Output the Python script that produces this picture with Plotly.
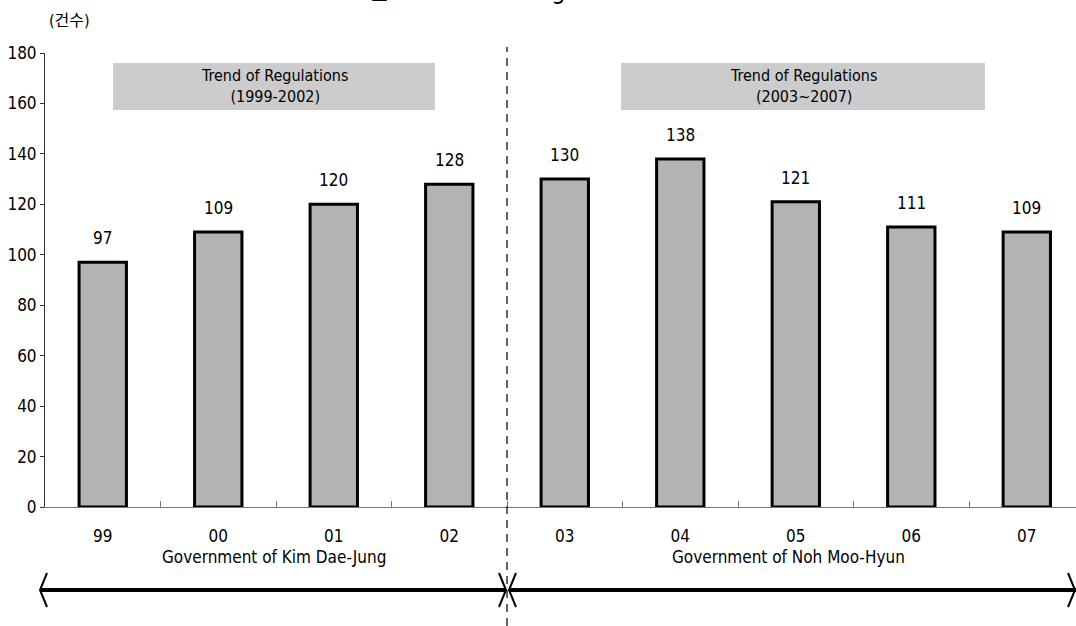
import plotly.graph_objects as go

# ---- data ----
years = ["99", "00", "01", "02", "03", "04", "05", "06", "07"]
counts = [97, 109, 120, 128, 130, 138, 121, 111, 109]
y_ticks = [0, 20, 40, 60, 80, 100, 120, 140, 160, 180]
unit_label = "(건수)"
title_text = "그림 1. Trend of Regulations in Korea"
box_labels = ["Trend of Regulations<br>(1999-2002)", "Trend of Regulations<br>(2003~2007)"]
gov_labels = ["Government of Kim Dae-Jung", "Government of Noh Moo-Hyun"]

# ---- layout constants ----
W, H = 1076, 626
ML, MR, MT, MB = 45, 0, 53, 119
XR = [-0.5, 8.426]
PW = W - ML - MR
PH = H - MT - MB
FONT = "Liberation Sans Narrow, DejaVu Sans Condensed, Arial Narrow, Noto Sans CJK KR, sans-serif"


def px_x(p):
    """pixel -> paper x (relative to plot area)"""
    return (p - ML) / PW


def px_y(p):
    return (H - MB - p) / PH


fig = go.Figure()
fig.add_trace(go.Bar(
    x=years, y=counts,
    width=0.41,
    marker=dict(color="#b3b3b3", line=dict(color="black", width=3)),
    hoverinfo="skip",
))

annotations = []
for i, v in enumerate(counts):
    annotations.append(dict(x=i, y=v, xref="x", yref="y", text=str(v),
                            showarrow=False, yanchor="middle", yshift=24,
                            font=dict(size=17, color="black", family=FONT)))

shapes = []
# gray header boxes
boxes = [(113, 435), (621, 985)]
for (a, b), lab in zip(boxes, box_labels):
    shapes.append(dict(type="rect", xref="paper", yref="paper",
                       x0=px_x(a), x1=px_x(b), y0=px_y(110), y1=px_y(63),
                       fillcolor="#cccccc", line=dict(width=0), layer="below"))
    annotations.append(dict(x=(px_x(a) + px_x(b)) / 2, y=px_y(86.5), xref="paper", yref="paper",
                            text=lab, showarrow=False, align="center",
                            xanchor="center", yanchor="middle",
                            font=dict(size=16, color="black", family=FONT)))

# dashed divider between governments
shapes.append(dict(type="line", xref="x", yref="paper", x0=3.5, x1=3.5,
                   y0=px_y(626), y1=px_y(47),
                   line=dict(color="black", width=1.2, dash="8px,6px")))

# government labels
for lab, cx in zip(gov_labels, [274, 788]):
    annotations.append(dict(x=px_x(cx), y=px_y(557), xref="paper", yref="paper", text=lab,
                            showarrow=False, xanchor="center", yanchor="middle",
                            font=dict(size=17, color="black", family=FONT)))

# arrows
ay = 590
for a, b in [(41, 505), (510, 1080)]:
    shapes.append(dict(type="line", xref="paper", yref="paper", x0=px_x(a), x1=px_x(b),
                       y0=px_y(ay), y1=px_y(ay), line=dict(color="black", width=4)))
for tip, d in [(40, 1), (506, -1), (509, 1), (1075, -1)]:
    p = "M {} {} L {} {} L {} {}".format(
        px_x(tip + d * 7), px_y(ay - 17), px_x(tip), px_y(ay), px_x(tip + d * 7), px_y(ay + 17))
    shapes.append(dict(type="path", xref="paper", yref="paper", path=p,
                       line=dict(color="black", width=2)))

# unit label and clipped title
annotations.append(dict(x=0, y=1, xref="paper", yref="paper", text=unit_label,
                        showarrow=False, xanchor="left", yanchor="middle",
                        xshift=2, yshift=MT - 20,
                        font=dict(size=16, color="black", family=FONT)))
annotations.append(dict(x=px_x(548), y=1, xref="paper", yref="paper", text=title_text,
                        showarrow=False, xanchor="center", yanchor="bottom",
                        yshift=MT - 7,
                        font=dict(size=25, color="black", family=FONT)))

fig.update_layout(
    width=W, height=H,
    margin=dict(l=ML, r=MR, t=MT, b=MB, pad=0),
    plot_bgcolor="white", paper_bgcolor="white",
    showlegend=False,
    font=dict(family=FONT, size=16, color="black"),
    shapes=shapes, annotations=annotations,
)
fig.update_xaxes(type="category", range=XR, showgrid=False, showline=True, linecolor="#777777",
                 linewidth=1, ticks="inside", tickson="boundaries", ticklen=6, tickcolor="#777777",
                 ticklabelstandoff=14, tickfont=dict(size=17, family=FONT), zeroline=False)
fig.update_yaxes(range=[0, 180], tickvals=y_ticks, showgrid=False, showline=True,
                 linecolor="#333333", linewidth=1, ticks="outside", ticklen=4,
                 tickcolor="#333333", tickfont=dict(size=17, family=FONT), zeroline=False)

fig.write_html("out.html", config={"displayModeBar": False},
               post_script="document.body.style.margin='0px';")
